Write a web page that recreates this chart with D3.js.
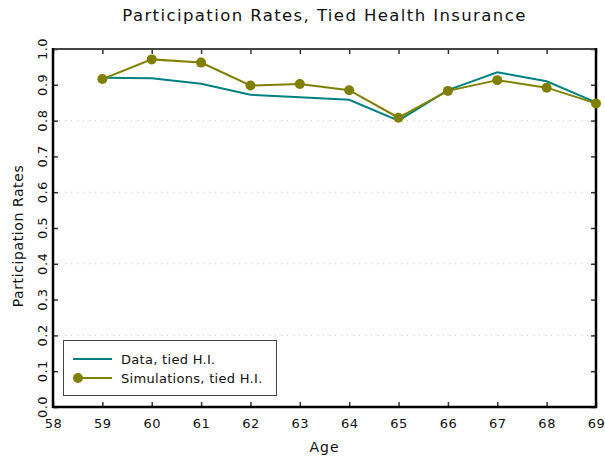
<!DOCTYPE html>
<html><head><meta charset="utf-8">
<script src="https://cdn.jsdelivr.net/npm/d3@7"></script>
<style>body{margin:0;background:#fff;} svg{display:block;} text{font-family:"DejaVu Sans",sans-serif;fill:#111;}</style>
</head><body>
<svg id="c" width="605" height="461"></svg>
<script>
const ages = [59,60,61,62,63,64,65,66,67,68,69];
const dataTied = [0.920,0.918,0.903,0.872,0.865,0.858,0.800,0.885,0.935,0.910,0.851];
const simTied = [0.916,0.971,0.962,0.898,0.902,0.885,0.808,0.883,0.913,0.892,0.848];
const xTicks = [58,59,60,61,62,63,64,65,66,67,68,69];
const yTicks = [0,0.1,0.2,0.3,0.4,0.5,0.6,0.7,0.8,0.9,1.0];
const gridVals = [0.2,0.4,0.6,0.8];
const seriesNames = ["Data, tied H.I.","Simulations, tied H.I."];
const colors = ["#008080","#808000"];

const svg = d3.select("#c");
const L=53,R=596,T=49,B=407;
const x = d3.scaleLinear().domain([58,69]).range([L,R]);
const y = d3.scaleLinear().domain([0,1]).range([B,T]);

// grid
svg.append("g").selectAll("line").data(gridVals).join("line")
  .attr("x1",L).attr("x2",R).attr("y1",d=>y(d)).attr("y2",d=>y(d))
  .attr("stroke","#c8c8d4").attr("stroke-width",1).attr("stroke-dasharray","1,5");

// axes with inward ticks
const fmt = d3.format(".1f");
const gB = svg.append("g").attr("transform",`translate(0,${B})`)
  .call(d3.axisBottom(x).tickValues(xTicks).tickSize(-5).tickPadding(12).tickFormat(d3.format("d")));
const gT = svg.append("g").attr("transform",`translate(0,${T})`)
  .call(d3.axisTop(x).tickValues(xTicks).tickSize(-5).tickFormat(""));
const gL = svg.append("g").attr("transform",`translate(${L},0)`)
  .call(d3.axisLeft(y).tickValues(yTicks).tickSize(-5).tickFormat(""));
const gR = svg.append("g").attr("transform",`translate(${R},0)`)
  .call(d3.axisRight(y).tickValues(yTicks).tickSize(-5).tickFormat(""));
[gB,gT,gL,gR].forEach(g=>{g.select(".domain").remove(); g.selectAll(".tick line").attr("stroke","#333").attr("stroke-width",1.5);});
gB.selectAll(".tick text").attr("font-size",13).attr("font-family","DejaVu Sans").attr("fill","#111").attr("letter-spacing",0.5);

// y tick labels rotated
svg.append("g").selectAll("text").data(yTicks).join("text")
  .attr("transform",d=>`translate(46.5,${y(d)}) rotate(-90)`)
  .attr("text-anchor","middle").attr("font-size",13).attr("letter-spacing",0.5).text(d=>fmt(d));

// frame
svg.append("line").attr("x1",L).attr("x2",R).attr("y1",T).attr("y2",T).attr("stroke","#444").attr("stroke-width",2);
svg.append("line").attr("x1",L).attr("x2",R+1).attr("y1",B).attr("y2",B).attr("stroke","#000").attr("stroke-width",2.5);
svg.append("line").attr("x1",L).attr("x2",L).attr("y1",T-1).attr("y2",B+1).attr("stroke","#000").attr("stroke-width",2.5);
svg.append("line").attr("x1",R).attr("x2",R).attr("y1",T-1).attr("y2",B+1).attr("stroke","#000").attr("stroke-width",2.5);

// lines
const line = d3.line().x((d,i)=>x(ages[i])).y(d=>y(d));
svg.append("path").datum(dataTied).attr("d",line).attr("fill","none").attr("stroke",colors[0]).attr("stroke-width",2);
svg.append("path").datum(simTied).attr("d",line).attr("fill","none").attr("stroke",colors[1]).attr("stroke-width",2);
svg.append("g").selectAll("circle").data(simTied).join("circle")
  .attr("cx",(d,i)=>x(ages[i])).attr("cy",d=>y(d)).attr("r",5).attr("fill",colors[1]);

// title and labels
svg.append("text").attr("x",(L+R)/2).attr("y",21).attr("text-anchor","middle").attr("font-size",16.5).attr("letter-spacing",1.4).text("Participation Rates, Tied Health Insurance");
svg.append("text").attr("x",(L+R)/2).attr("y",452).attr("text-anchor","middle").attr("font-size",14).attr("letter-spacing",1).text("Age");
svg.append("text").attr("transform",`translate(23,${(T+B)/2+8}) rotate(-90)`).attr("text-anchor","middle").attr("font-size",14).attr("letter-spacing",0.6).text("Participation Rates");

// legend
const lg = svg.append("g");
lg.append("rect").attr("x",63.5).attr("y",340.5).attr("width",213).attr("height",55).attr("fill","#fff").attr("stroke","#444").attr("stroke-width",1);
const rows=[359,378];
seriesNames.forEach((n,i)=>{
  lg.append("line").attr("x1",73).attr("x2",112).attr("y1",rows[i]).attr("y2",rows[i]).attr("stroke",colors[i]).attr("stroke-width",2);
  if(i===1) lg.append("circle").attr("cx",78).attr("cy",rows[i]).attr("r",5).attr("fill",colors[i]);
  lg.append("text").attr("x",121).attr("y",rows[i]+5).attr("font-size",13).attr("letter-spacing",0.3).text(n);
});
</script>
</body></html>
